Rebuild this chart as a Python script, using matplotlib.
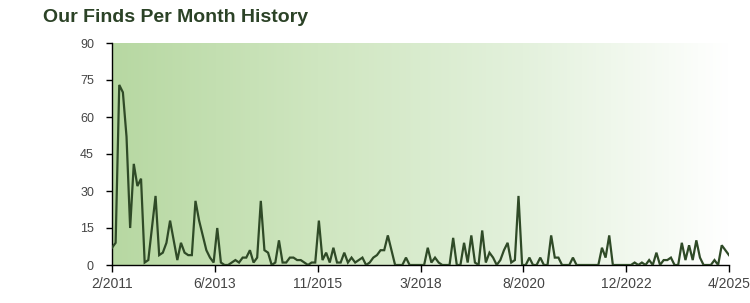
import matplotlib
matplotlib.use('Agg')
import matplotlib.pyplot as plt
import numpy as np
from matplotlib.colors import LinearSegmentedColormap

#------------------------------------------------
# finds per month, 2/2011 .. 4/2025 (one value per month)
finds_2011 = [7, 9, 73, 70, 52, 15, 41, 32, 35, 1, 2]
finds_2012 = [15, 28, 4, 5, 9, 18, 10, 2, 9, 5, 4, 4]
finds_2013 = [26, 18, 12, 6, 3, 1, 15, 1, 0, 0, 1, 2]
finds_2014 = [1, 3, 3, 6, 1, 3, 26, 6, 5, 0, 1, 10]
finds_2015 = [1, 1, 3, 3, 2, 2, 1, 0, 1, 1, 18, 2]
finds_2016 = [5, 1, 7, 1, 1, 5, 1, 3, 1, 2, 3, 0]
finds_2017 = [1, 3, 4, 6, 6, 12, 6, 0, 0, 0, 3, 0]
finds_2018 = [0, 0, 0, 0, 7, 1, 3, 1, 0, 0, 0, 11]
finds_2019 = [0, 0, 9, 1, 12, 1, 0, 14, 1, 5, 3, 0]
finds_2020 = [2, 6, 9, 1, 2, 28, 0, 0, 3, 0, 0, 3]
finds_2021 = [0, 0, 12, 3, 3, 0, 0, 0, 3, 0, 0, 0]
finds_2022 = [0, 0, 0, 0, 7, 3, 12, 0, 0, 0, 0, 0]
finds_2023 = [0, 1, 0, 1, 0, 2, 0, 5, 0, 2, 2, 3]
finds_2024 = [0, 0, 9, 2, 8, 2, 10, 3, 0, 0, 0, 2]
finds_2025 = [0, 0, 8, 6, 4][1:]

finds = (finds_2011 + finds_2012 + finds_2013 + finds_2014 + finds_2015 +
         finds_2016 + finds_2017 + finds_2018 + finds_2019 + finds_2020 +
         finds_2021 + finds_2022 + finds_2023 + finds_2024 + finds_2025)

x_labels = ['2/2011', '6/2013', '11/2015', '3/2018', '8/2020', '12/2022', '4/2025']
y_ticks = [0, 15, 30, 45, 60, 75, 90]

#------------------------------------------------
plt.rcParams['font.family'] = ['Liberation Sans', 'DejaVu Sans']

fig = plt.figure(figsize=(7.5, 3.03), dpi=100)
ax = fig.add_axes([112/750, 1 - 265/303, (729 - 112)/750, (265 - 43)/303])

n = len(finds) - 1
months = np.arange(len(finds))

# green -> white gradient behind the line
grad = LinearSegmentedColormap.from_list('g', ['#b7d8a2', '#cfe6c0', '#e3f1dc', '#ffffff'])
ax.imshow(np.linspace(0, 1, 256).reshape(1, -1), cmap=grad, aspect='auto',
          extent=[0, n, 0, 90], zorder=0)

ax.plot(months, finds, color='#2f4a27', lw=1.6, zorder=3, solid_joinstyle='miter')

ax.set_xlim(0, n)
ax.set_ylim(0, 90)
ax.set_yticks(y_ticks)
ax.set_xticks(np.linspace(0, n, len(x_labels)))
ax.set_xticklabels(x_labels)

for s in ['top', 'right']:
    ax.spines[s].set_visible(False)
for s in ['left', 'bottom']:
    ax.spines[s].set_color('black')
    ax.spines[s].set_linewidth(1.0)

ax.tick_params(axis='y', length=4, width=1, pad=9, labelsize=9, labelcolor='#444444')
ax.tick_params(axis='x', length=5, width=1, pad=4, labelsize=10, labelcolor='#444444')

fig.text(43/750, 1 - 17/303, 'Our Finds Per Month History', fontsize=14,
         fontweight='bold', color='#2b4226', va='center', ha='left')

fig.savefig('out.png', dpi=100)
